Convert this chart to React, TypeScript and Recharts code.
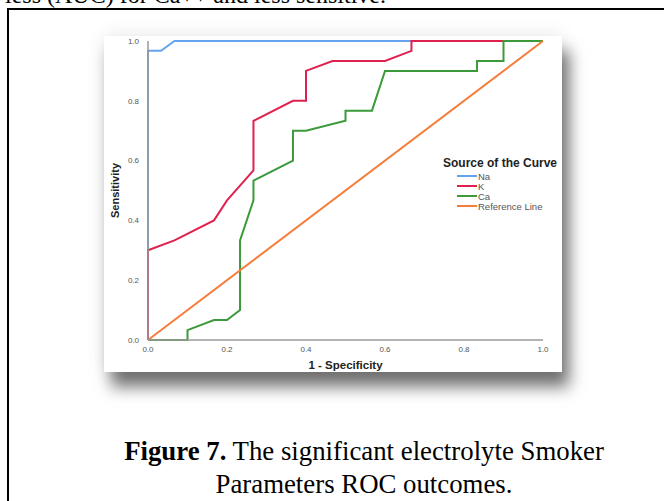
import { LineChart, Line, XAxis, YAxis, Legend } from 'recharts'

const naX = [0, 0, 0.033, 0.067, 1]
const naY = [0, 0.967, 0.967, 1, 1]
const kX = [0, 0, 0.067, 0.167, 0.2, 0.267, 0.267, 0.367, 0.4, 0.4, 0.467, 0.6, 0.667, 0.667, 1]
const kY = [0, 0.3, 0.333, 0.4, 0.467, 0.567, 0.733, 0.8, 0.8, 0.9, 0.933, 0.933, 0.967, 1, 1]
const caX = [0, 0.1, 0.1, 0.167, 0.2, 0.233, 0.233, 0.267, 0.267, 0.367, 0.367, 0.4, 0.5, 0.5, 0.567, 0.6, 0.833, 0.833, 0.9, 0.9, 1]
const caY = [0, 0, 0.033, 0.067, 0.067, 0.1, 0.333, 0.467, 0.533, 0.6, 0.7, 0.7, 0.733, 0.767, 0.767, 0.9, 0.9, 0.933, 0.933, 1, 1]
const refX = [0, 1]
const refY = [0, 1]
const ticks = [0, 0.2, 0.4, 0.6, 0.8, 1]

const series = [
  { name: 'Na', xs: naX, ys: naY, color: '#66a3ee' },
  { name: 'K', xs: kX, ys: kY, color: '#e0214f' },
  { name: 'Ca', xs: caX, ys: caY, color: '#3c9a3a' },
  { name: 'Reference Line', xs: refX, ys: refY, color: '#f77c3a' }
]

const toPoints = (xs: number[], ys: number[]) => xs.map((x, i) => ({ x, y: ys[i] }))

const font = 'Arial, "Liberation Sans", sans-serif'

const CurveLegend = () => (
  <div style={{ fontFamily: font }}>
    <div style={{ fontWeight: 'bold', fontSize: 12, lineHeight: '14px', color: '#222', marginBottom: 1 }}>
      Source of the Curve
    </div>
    {series.map((s) => (
      <div key={s.name} style={{ display: 'flex', alignItems: 'center', height: 10, marginLeft: 14 }}>
        <div style={{ width: 20, height: 2, background: s.color, marginRight: 1 }} />
        <span style={{ fontSize: 9.5, color: '#555' }}>{s.name}</span>
      </div>
    ))}
  </div>
)

const App = () => {
  return (
    <div
      style={{
        position: 'absolute',
        left: 0,
        top: 0,
        width: 664,
        height: 501,
        overflow: 'hidden',
        background: '#fff',
        fontFamily: '"Liberation Serif", "Times New Roman", serif'
      }}
    >
      <div style={{ position: 'absolute', left: 5, top: -18, fontSize: 24, whiteSpace: 'nowrap' }}>
        less (AUC) for Ca++ and less sensitive.
      </div>
      <div
        style={{
          position: 'absolute',
          left: 7,
          top: 8,
          width: 700,
          height: 520,
          borderLeft: '2px solid #000',
          borderTop: '2px solid #000'
        }}
      />
      <div
        style={{
          position: 'absolute',
          left: 104,
          top: 36,
          width: 458,
          height: 336,
          background: '#fff',
          boxShadow: '7px 15px 15px rgba(0,0,0,0.55), 0 -2px 18px rgba(0,0,0,0.08)'
        }}
      >
        <LineChart width={460} height={336} margin={{ top: 5, right: 21, left: 0, bottom: 0 }}>
          <XAxis
            type="number"
            dataKey="x"
            domain={[0, 1]}
            ticks={ticks}
            tickFormatter={(v: number) => v.toFixed(1)}
            tickLine={false}
            axisLine={{ stroke: '#9a9a9a', strokeWidth: 1.5 }}
            tick={{ fontSize: 8, fill: '#555', fontFamily: font }}
            tickMargin={0}
            height={32}
            label={{
              value: '1 - Specificity',
              position: 'insideBottom',
              offset: 3,
              style: { fontSize: 11.5, fontWeight: 'bold', fill: '#222', fontFamily: font }
            }}
          />
          <YAxis
            type="number"
            dataKey="y"
            domain={[0, 1]}
            ticks={ticks}
            tickFormatter={(v: number) => v.toFixed(1)}
            tickLine={false}
            axisLine={{ stroke: '#9a9a9a', strokeWidth: 1.5 }}
            tick={{ fontSize: 8, fill: '#555', fontFamily: font }}
            tickMargin={3}
            width={44}
            label={{
              value: 'Sensitivity',
              angle: -90,
              position: 'insideLeft',
              offset: 11,
              style: { fontSize: 11, fontWeight: 'bold', fill: '#222', fontFamily: font, textAnchor: 'middle' }
            }}
          />
          <Legend
            layout="vertical"
            align="center"
            verticalAlign="middle"
            content={() => <CurveLegend />}
            wrapperStyle={{ left: 339, top: 120, width: 130, height: 60 }}
          />
          {series.map((s) => (
            <Line
              key={s.name}
              name={s.name}
              data={toPoints(s.xs, s.ys)}
              dataKey="y"
              type="linear"
              stroke={s.color}
              strokeWidth={2}
              dot={false}
              activeDot={false}
              isAnimationActive={false}
            />
          ))}
        </LineChart>
      </div>
      <div
        style={{
          position: 'absolute',
          left: 64,
          top: 435,
          width: 600,
          textAlign: 'center',
          fontSize: 26.8,
          lineHeight: '33px',
          color: '#000'
        }}
      >
        <b>Figure 7.</b> The significant electrolyte Smoker
        <br />
        Parameters ROC outcomes.
      </div>
    </div>
  )
}

export default App
